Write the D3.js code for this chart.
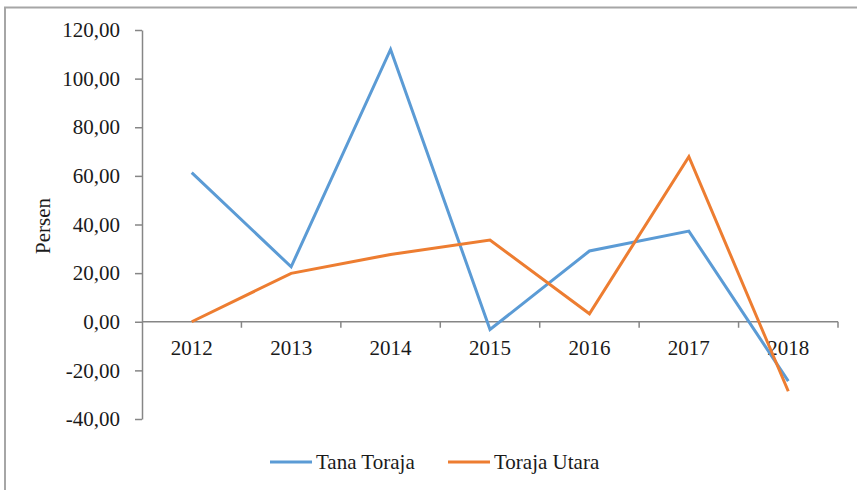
<!DOCTYPE html>
<html>
<head>
<meta charset="utf-8">
<script src="https://cdn.jsdelivr.net/npm/d3@7"></script>
<style>
  body { margin: 0; background: #fff; }
  text { font-family: "Liberation Serif", "Times New Roman", serif; fill: #1a1a1a; }
</style>
</head>
<body>
<div id="chart"></div>
<script>
// data
var years = ["2012", "2013", "2014", "2015", "2016", "2017", "2018"];
var tanaToraja = [61.3, 22.6, 112.0, -3.2, 29.1, 37.3, -24.4];
var torajaUtara = [0.0, 19.9, 27.7, 33.6, 3.3, 67.9, -28.6];
var yTicks = [-40, -20, 0, 20, 40, 60, 80, 100, 120];
var seriesNames = ["Tana Toraja", "Toraja Utara"];
var seriesColors = ["#5B9BD5", "#ED7D31"];

var W = 857, H = 490;
var margin = {top: 30, right: 19, bottom: 71, left: 142},
    width = W - margin.left - margin.right,
    height = H - margin.top - margin.bottom;

var svg = d3.select("#chart")
  .append("svg")
    .attr("width", W)
    .attr("height", H);

// outer frame
svg.append("rect")
  .attr("x", 5).attr("y", 7.5)
  .attr("width", W + 10).attr("height", H + 10)
  .attr("fill", "none")
  .attr("stroke", "#a6a6a6")
  .attr("stroke-width", 2);

var g = svg.append("g")
  .attr("transform", "translate(" + margin.left + "," + margin.top + ")");

var x = d3.scaleBand()
  .domain(years)
  .range([0, 696]);

var y = d3.scaleLinear()
  .domain([-40, 120])
  .range([389, 0]);

// comma decimals, plain hyphen for minus
var fmt = function(d) { return d.toFixed(2).replace(".", ","); };

// y axis
var yAxis = g.append("g")
  .call(d3.axisLeft(y).tickValues(yTicks).tickSize(7).tickPadding(15).tickFormat(fmt).tickSizeOuter(0));
yAxis.select(".domain").attr("stroke", "#868686").attr("stroke-width", 1.5);
yAxis.selectAll(".tick line").attr("stroke", "#868686").attr("stroke-width", 1.5);
yAxis.selectAll("text").style("font-size", "21px").attr("fill", "#1a1a1a")
  .style("font-family", "'Liberation Serif', serif");

// x axis along zero, ticks between categories
var xAxisG = g.append("g")
  .attr("transform", "translate(0," + y(0) + ")");
xAxisG.append("line")
  .attr("x1", 0).attr("x2", 696)
  .attr("stroke", "#868686").attr("stroke-width", 1.5);
xAxisG.selectAll(".xtick")
  .data(years)
  .enter()
  .append("line")
    .attr("x1", function(d) { return x(d) + x.step(); })
    .attr("x2", function(d) { return x(d) + x.step(); })
    .attr("y1", 0).attr("y2", 6)
    .attr("stroke", "#868686").attr("stroke-width", 1.5);
xAxisG.selectAll(".xlabel")
  .data(years)
  .enter()
  .append("text")
    .attr("x", function(d) { return x(d) + x.bandwidth() / 2; })
    .attr("y", 33)
    .attr("text-anchor", "middle")
    .style("font-size", "21px")
    .text(function(d) { return d; });

// y label
svg.append("text")
  .attr("transform", "translate(50,226) rotate(-90)")
  .attr("text-anchor", "middle")
  .style("font-size", "21px")
  .text("Persen");

// lines
var dataReady = [tanaToraja, torajaUtara].map(function(vals, k) {
  return { name: seriesNames[k], color: seriesColors[k],
           values: vals.map(function(v, i) { return {year: years[i], value: v}; }) };
});

var line = d3.line()
  .x(function(d) { return x(d.year) + x.bandwidth() / 2; })
  .y(function(d) { return y(d.value); });

g.selectAll("myLines")
  .data(dataReady)
  .enter()
  .append("path")
    .attr("d", function(d) { return line(d.values); })
    .attr("stroke", function(d) { return d.color; })
    .attr("stroke-width", 3)
    .attr("fill", "none");

// legend
var legendX = [270, 448];
var leg = svg.selectAll("myLegend")
  .data(dataReady)
  .enter()
  .append("g")
    .attr("transform", function(d, i) { return "translate(" + legendX[i] + ",462)"; });
leg.append("line")
  .attr("x1", 0).attr("x2", 42)
  .attr("stroke", function(d) { return d.color; })
  .attr("stroke-width", 3);
leg.append("text")
  .attr("x", 46).attr("y", 7)
  .style("font-size", "21px")
  .text(function(d) { return d.name; });
</script>
</body>
</html>
